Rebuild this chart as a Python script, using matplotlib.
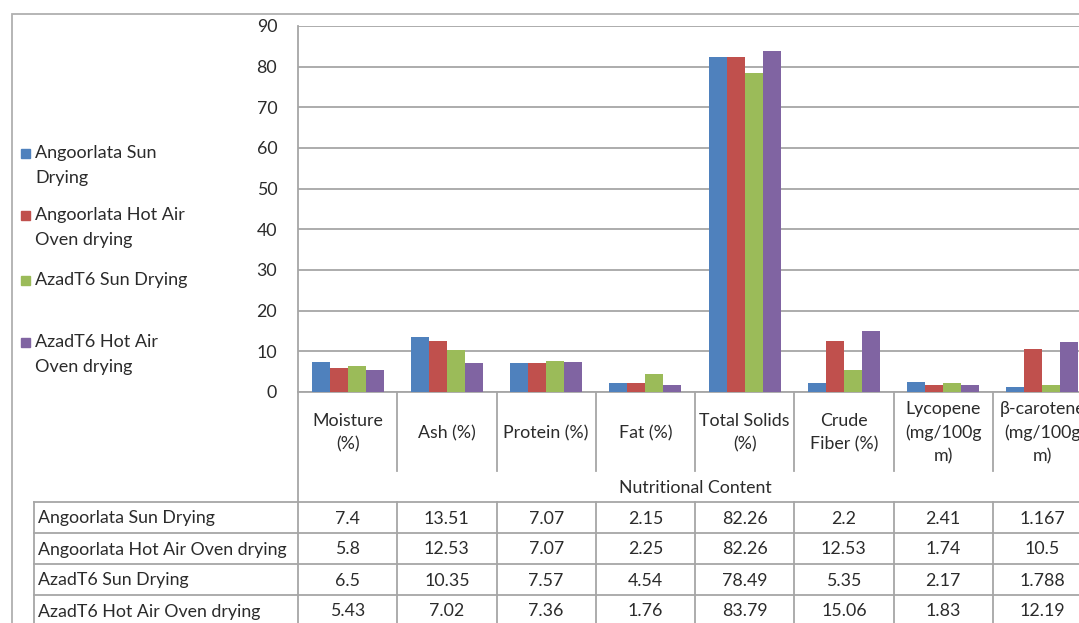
import matplotlib.pyplot as plt
from matplotlib.patches import Rectangle
from matplotlib.transforms import blended_transform_factory

plt.rcParams['font.family'] = ['Lato', 'DejaVu Sans']

categories = ['Moisture\n(%)', 'Ash (%)', 'Protein (%)', 'Fat (%)', 'Total Solids\n(%)',
              'Crude\nFiber (%)', 'Lycopene\n(mg/100g\nm)', '\u03b2-carotene\n(mg/100g\nm)']
series_names = ['Angoorlata Sun Drying', 'Angoorlata Hot Air Oven drying',
                'AzadT6 Sun Drying', 'AzadT6 Hot Air Oven drying']
legend_labels = ['Angoorlata Sun\nDrying', 'Angoorlata Hot Air\nOven drying',
                 'AzadT6 Sun Drying', 'AzadT6 Hot Air\nOven drying']
sun_angoor = [7.4, 13.51, 7.07, 2.15, 82.26, 2.2, 2.41, 1.167]
oven_angoor = [5.8, 12.53, 7.07, 2.25, 82.26, 12.53, 1.74, 10.5]
sun_azad = [6.5, 10.35, 7.57, 4.54, 78.49, 5.35, 2.17, 1.788]
oven_azad = [5.43, 7.02, 7.36, 1.76, 83.79, 15.06, 1.83, 12.19]
values = [sun_angoor, oven_angoor, sun_azad, oven_azad]
table_text = [['7.4', '13.51', '7.07', '2.15', '82.26', '2.2', '2.41', '1.167'],
              ['5.8', '12.53', '7.07', '2.25', '82.26', '12.53', '1.74', '10.5'],
              ['6.5', '10.35', '7.57', '4.54', '78.49', '5.35', '2.17', '1.788'],
              ['5.43', '7.02', '7.36', '1.76', '83.79', '15.06', '1.83', '12.19']]
colors = ['#4F81BD', '#C0504D', '#9BBB59', '#8064A2']

W, H = 1079, 623
txt = '#2b2b2b'
grid = '#a6a6a6'
fs = 12.8

def fx(x):
    return x / W

def fy(y):
    return 1 - y / H

fig = plt.figure(figsize=(W / 100, H / 100), dpi=100)
ax = fig.add_axes([fx(298), fy(392), fx(1092) - fx(298), fy(26) - fy(392)])

n = len(categories)
bw = 0.181
for i, vals in enumerate(values):
    xs = [k + (i - 1.5) * bw for k in range(n)]
    ax.bar(xs, vals, width=bw, color=colors[i], zorder=3)

ax.set_xlim(-0.5, n - 0.5)
ax.set_ylim(0, 90)
ax.set_yticks(range(0, 91, 10))
ax.yaxis.grid(True, color=grid, linewidth=1.3)
ax.set_xticks([])
ax.tick_params(axis='y', length=0, pad=15, labelsize=fs, labelcolor=txt)
for s in ['top', 'right']:
    ax.spines[s].set_visible(False)
for s in ['left', 'bottom']:
    ax.spines[s].set_color(grid)
    ax.spines[s].set_linewidth(1.3)

# outer chart border
fig.patches.append(Rectangle((fx(12), fy(700)), 2, fy(14) - fy(700), transform=fig.transFigure,
                             fill=False, edgecolor='#b0b0b0', linewidth=1.3))

tr = blended_transform_factory(ax.transData, fig.transFigure)
cat_w = (1092 - 298) / n
x_left = -0.5 - (298 - 34) / cat_w
lk = dict(color=grid, linewidth=1.3, transform=tr, clip_on=False)

# category label cells
ax.plot([-0.5, -0.5], [fy(392), fy(700)], **lk)
for k in range(1, n + 1):
    ax.plot([k - 0.5, k - 0.5], [fy(392), fy(471)], **lk)
for k, c in enumerate(categories):
    ax.text(k, fy(433), c, transform=tr, ha='center', va='center', fontsize=fs,
            color=txt, linespacing=1.55)
ax.text((n - 1) / 2, fy(488), 'Nutritional Content', transform=tr, ha='center',
        va='center', fontsize=fs, color=txt)

# data table
row_y = [502, 533, 564, 595, 626]
for y in row_y:
    ax.plot([x_left, n], [fy(y), fy(y)], **lk)
for xv in [x_left] + [k - 0.5 for k in range(1, n + 1)]:
    ax.plot([xv, xv], [fy(502), fy(700)], **lk)
for r, name in enumerate(series_names):
    yc = fy((row_y[r] + row_y[r + 1]) / 2 + 1)
    ax.text(x_left + 0.04, yc, name, transform=tr, ha='left', va='center',
            fontsize=fs, color=txt)
    for k in range(n):
        ax.text(k, yc, table_text[r][k], transform=tr, ha='center', va='center',
                fontsize=fs, color=txt)

# legend
leg_y = [153, 215, 280, 342]
for i, lab in enumerate(legend_labels):
    fig.patches.append(Rectangle((fx(21), fy(leg_y[i] + 5)), fx(9), fy(0) - fy(9),
                                 transform=fig.transFigure, color=colors[i]))
    for j, line in enumerate(lab.split('\n')):
        fig.text(fx(35), fy(leg_y[i] + 25 * j), line, ha='left', va='center',
                 fontsize=13, color=txt)

fig.savefig('out.png', dpi=100)
